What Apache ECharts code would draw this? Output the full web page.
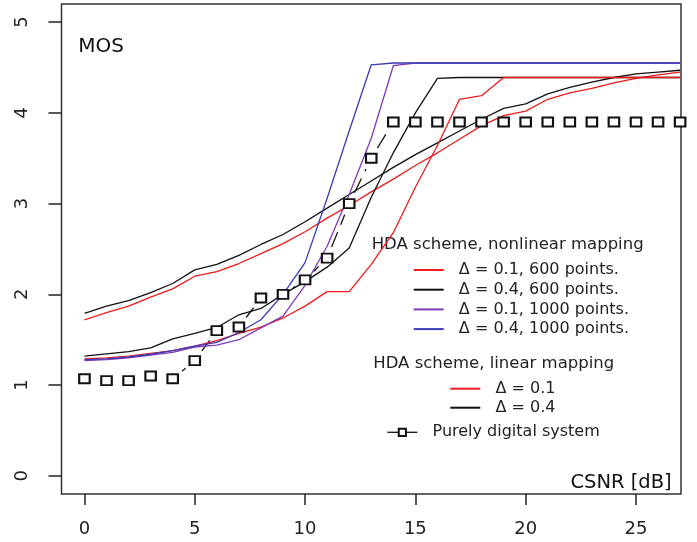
<!DOCTYPE html>
<html>
<head>
<meta charset="utf-8">
<script src="https://cdn.jsdelivr.net/npm/echarts@6/dist/echarts.min.js"></script>
<style>
  html, body { margin: 0; padding: 0; background: #fff; }
  #chart { width: 697px; height: 542px; }
</style>
</head>
<body>
<div id="chart"></div>
<script>
// ---------- data ----------
const csnr = [0,1,2,3,4,5,6,7,8,9,10,11,12,13,14,15,16,17,18,19,20,21,22,23,24,25,26,27];

const nlD01p600  = [1.29,1.30,1.32,1.35,1.38,1.43,1.49,1.57,1.64,1.74,1.87,2.03,2.03,2.33,2.68,3.18,3.64,4.15,4.19,4.39,4.39,4.39,4.39,4.39,4.39,4.39,4.39,4.39];
const nlD04p600  = [1.32,1.345,1.37,1.41,1.51,1.57,1.635,1.775,1.845,2.00,2.14,2.30,2.51,3.07,3.56,4.00,4.38,4.39,4.39,4.39,4.39,4.39,4.39,4.39,4.39,4.39,4.39,4.39];
const nlD01p1000 = [1.27,1.28,1.30,1.33,1.36,1.42,1.44,1.50,1.63,1.76,2.10,2.53,3.10,3.72,4.52,4.55,4.55,4.55,4.55,4.55,4.55,4.55,4.55,4.55,4.55,4.55,4.55,4.55];
const nlD04p1000 = [1.28,1.29,1.31,1.34,1.38,1.43,1.47,1.58,1.72,2.00,2.35,3.06,3.80,4.53,4.55,4.55,4.55,4.55,4.55,4.55,4.55,4.55,4.55,4.55,4.55,4.55,4.55,4.55];

const linD01 = [1.72,1.80,1.87,1.97,2.06,2.20,2.25,2.34,2.45,2.56,2.69,2.84,2.98,3.13,3.27,3.42,3.56,3.71,3.86,3.97,4.02,4.15,4.22,4.27,4.33,4.38,4.42,4.45];
const linD04 = [1.79,1.87,1.93,2.02,2.12,2.27,2.33,2.43,2.55,2.66,2.80,2.95,3.10,3.25,3.40,3.54,3.67,3.80,3.93,4.05,4.10,4.21,4.28,4.34,4.39,4.43,4.45,4.47];

const digital = [1.07,1.05,1.05,1.10,1.07,1.27,1.60,1.64,1.96,2.00,2.16,2.40,3.00,3.50,3.90,3.90,3.90,3.90,3.90,3.90,3.90,3.90,3.90,3.90,3.90,3.90,3.90,3.90];

const xTicks = [0,5,10,15,20,25];
const yTicks = [0,1,2,3,4,5];

const namesNonlinear = ['Δ = 0.1, 600 points.', 'Δ = 0.4, 600 points.', 'Δ = 0.1, 1000 points.', 'Δ = 0.4, 1000 points.'];
const namesLinear = ['Δ = 0.1', 'Δ = 0.4'];
const nameDigital = 'Purely digital system';

// ---------- helpers ----------
const FONT = 'DejaVu Sans';
const zip = (xs, ys) => xs.map((x, i) => [x, ys[i]]);
const segs = [];
for (let i = 0; i < csnr.length - 1; i++) segs.push([csnr[i], digital[i], csnr[i + 1], digital[i + 1]]);
const GAP = 12;

function lineSeries(name, ys, color) {
  return {
    name, type: 'line', data: zip(csnr, ys), symbol: 'none', smooth: false,
    lineStyle: { color, width: 1.3 }, itemStyle: { color }, animation: false, silent: true
  };
}

const RED = '#f01a1a', BLACK = '#111111', PURPLE = '#7d3cb5', BLUE = '#3a3ab8';

const chart = echarts.init(document.getElementById('chart'), null, { renderer: 'canvas' });

const legendCommon = {
  orient: 'vertical', itemWidth: 30, padding: 0, selectedMode: false,
  formatter: n => '  ' + n,
  textStyle: { fontFamily: FONT, fontSize: 16, lineHeight: 16, color: '#222' }
};

chart.setOption({
  animation: false,
  backgroundColor: '#fff',
  grid: { left: 61.5, right: 16, top: 4, bottom: 48, show: true, borderColor: '#333', borderWidth: 1.5, backgroundColor: 'transparent' },
  xAxis: {
    type: 'value', min: -1.04, max: 27.04,
    splitLine: { show: false },
    axisLine: { show: false, onZero: false },
    axisTick: { show: true, inside: false, length: 11, lineStyle: { color: '#222', width: 1.5 }, customValues: xTicks },
    axisLabel: { customValues: xTicks, margin: 26, fontFamily: FONT, fontSize: 18, color: '#222' }
  },
  yAxis: {
    type: 'value', min: -0.2, max: 5.2,
    splitLine: { show: false },
    axisLine: { show: false, onZero: false },
    axisTick: { show: true, inside: false, length: 13, lineStyle: { color: '#222', width: 1.5 }, customValues: yTicks },
    axisLabel: { customValues: yTicks, rotate: 90, margin: 30, fontFamily: FONT, fontSize: 18, color: '#222' }
  },
  legend: [
    Object.assign({}, legendCommon, { data: namesNonlinear, left: 412.7, top: 262, itemHeight: 14, itemGap: 3.7, itemStyle: { opacity: 0 } }),
    Object.assign({}, legendCommon, { data: namesLinear, left: 449.3, top: 380.7, itemHeight: 14, itemGap: 3, itemStyle: { opacity: 0 } }),
    Object.assign({}, legendCommon, { data: [nameDigital], left: 386.7, top: 424.3, itemHeight: 9,
      lineStyle: { opacity: 1, width: 1.3, color: BLACK } })
  ],
  graphic: [
    { type: 'text', x: 78.3, y: 47, silent: true, style: { text: 'MOS', font: '20px "DejaVu Sans"', fill: '#111', align: 'left', verticalAlign: 'middle' } },
    { type: 'text', x: 671.7, y: 483.3, silent: true, style: { text: 'CSNR [dB]', font: '19.5px "DejaVu Sans"', fill: '#111', align: 'right', verticalAlign: 'middle' } },
    { type: 'text', x: 371.7, y: 245, silent: true, style: { text: 'HDA scheme, nonlinear mapping', font: '16.5px "DejaVu Sans"', fill: '#222', align: 'left', verticalAlign: 'middle' } },
    { type: 'text', x: 373.3, y: 363.3, silent: true, style: { text: 'HDA scheme, linear mapping', font: '16.5px "DejaVu Sans"', fill: '#222', align: 'left', verticalAlign: 'middle' } }
  ],
  series: [
    lineSeries(namesLinear[1], linD04, BLACK),
    lineSeries(namesLinear[0], linD01, RED),
    lineSeries(namesNonlinear[1], nlD04p600, BLACK),
    lineSeries(namesNonlinear[0], nlD01p600, RED),
    lineSeries(namesNonlinear[2], nlD01p1000, PURPLE),
    lineSeries(namesNonlinear[3], nlD04p1000, BLUE),
    {
      type: 'custom', name: 'digital-dashes', data: segs, silent: true, animation: false,
      encode: { x: [0, 2], y: [1, 3] },
      renderItem: function (params, api) {
        const p0 = api.coord([api.value(0), api.value(1)]);
        const p1 = api.coord([api.value(2), api.value(3)]);
        const dx = p1[0] - p0[0], dy = p1[1] - p0[1];
        const d = Math.hypot(dx, dy);
        if (d <= 2 * GAP) return { type: 'group', children: [] };
        const ux = dx / d, uy = dy / d;
        return {
          type: 'line',
          shape: { x1: p0[0] + ux * GAP, y1: p0[1] + uy * GAP, x2: p1[0] - ux * GAP, y2: p1[1] - uy * GAP },
          style: { stroke: BLACK, lineWidth: 1.3, lineDash: [16, 8] }
        };
      }
    },
    {
      name: nameDigital, type: 'line', data: zip(csnr, digital),
      symbol: 'emptyRect', symbolSize: [10.5, 9], showSymbol: true,
      lineStyle: { opacity: 0, width: 1.3, color: BLACK },
      itemStyle: { color: BLACK, borderColor: BLACK, borderWidth: 1.2 },
      animation: false, silent: true
    }
  ]
});
</script>
</body>
</html>
